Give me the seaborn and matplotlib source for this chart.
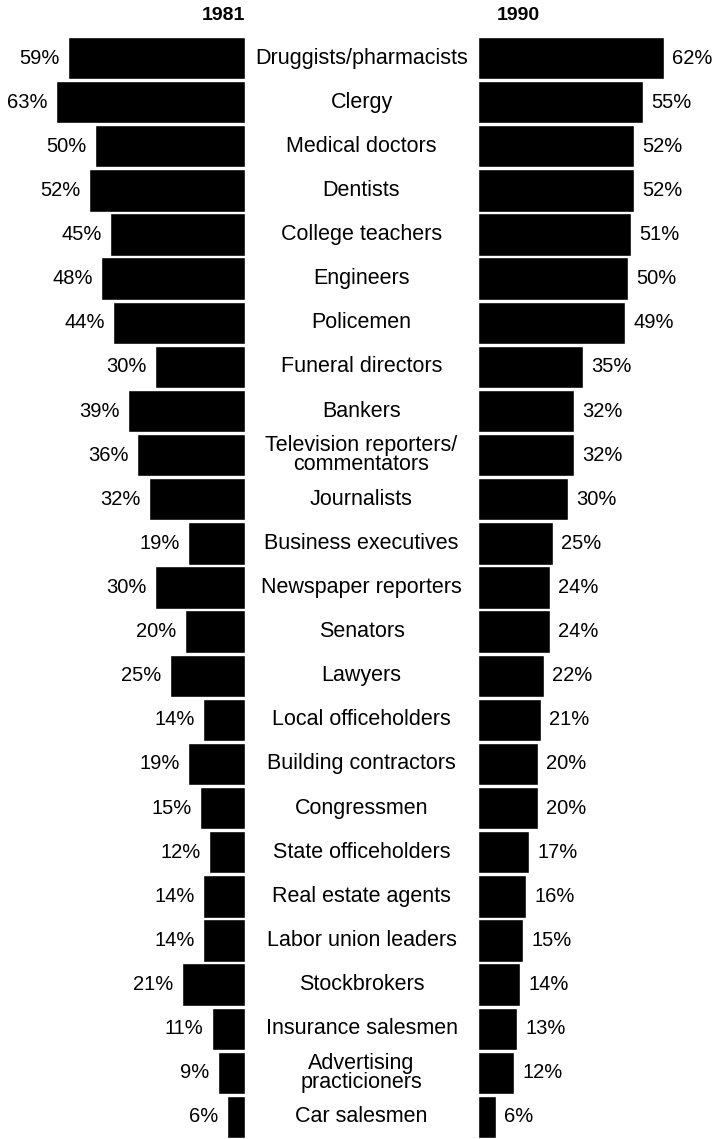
import matplotlib
matplotlib.use("Agg")
import matplotlib.pyplot as plt
import matplotlib.transforms as mtransforms
import seaborn as sns
import pandas as pd

# occupations, top to bottom
jobs = ["Druggists/pharmacists", "Clergy", "Medical doctors", "Dentists",
        "College teachers", "Engineers", "Policemen", "Funeral directors",
        "Bankers", "Television reporters/\ncommentators", "Journalists",
        "Business executives", "Newspaper reporters", "Senators", "Lawyers",
        "Local officeholders", "Building contractors", "Congressmen",
        "State officeholders", "Real estate agents", "Labor union leaders",
        "Stockbrokers", "Insurance salesmen", "Advertising\npracticioners",
        "Car salesmen"]
pct_1981 = [59, 63, 50, 52, 45, 48, 44, 30, 39, 36, 32, 19, 30, 20, 25,
            14, 19, 15, 12, 14, 14, 21, 11, 9, 6]
pct_1990 = [62, 55, 52, 52, 51, 50, 49, 35, 32, 32, 30, 25, 24, 24, 22,
            21, 20, 20, 17, 16, 15, 14, 13, 12, 6]

df = pd.DataFrame({"job": jobs, "y1981": pct_1981, "y1990": pct_1990})

sns.set_theme(style="white")
plt.rcParams["font.family"] = ["Liberation Sans", "DejaVu Sans"]
plt.rcParams["text.color"] = "black"

W, H = 715, 1139
fig = plt.figure(figsize=(W / 100, H / 100), dpi=100)

top_px = 36
ax_h = (H - top_px) / H
axL = fig.add_axes([0, 0, 245 / W, ax_h])
axR = fig.add_axes([478 / W, 0, (W - 478) / W, ax_h])

sns.barplot(data=df, x="y1981", y="job", order=jobs, color="black",
            width=0.96, saturation=1, ax=axL)
sns.barplot(data=df, x="y1990", y="job", order=jobs, color="black",
            width=0.96, saturation=1, ax=axR)

axL.set_xlim(245 / 3.0, 0)
axR.set_xlim(0, (W - 478) / 3.0)

for ax in (axL, axR):
    ax.set_ylim(len(jobs) - 0.5, -0.5)
    ax.set_axis_off()
    ax.bar_label(ax.containers[0], fmt="{:.0f}%", padding=6, fontsize=14.5,
                 color="black")

# occupation names centred between the two bar groups
trans = mtransforms.blended_transform_factory(fig.transFigure, axL.transData)
for i, job in enumerate(jobs):
    axL.text(361.5 / W, i, job, transform=trans, ha="center", va="center",
             fontsize=15.5, linespacing=0.9, color="black", clip_on=False)

fig.text(245 / W, 1 - 16 / H, "1981", ha="right", va="center",
         fontsize=14, fontweight="bold", color="black")
fig.text(497 / W, 1 - 16 / H, "1990", ha="left", va="center",
         fontsize=14, fontweight="bold", color="black")

plt.savefig("out.png", dpi=100)
plt.close()
